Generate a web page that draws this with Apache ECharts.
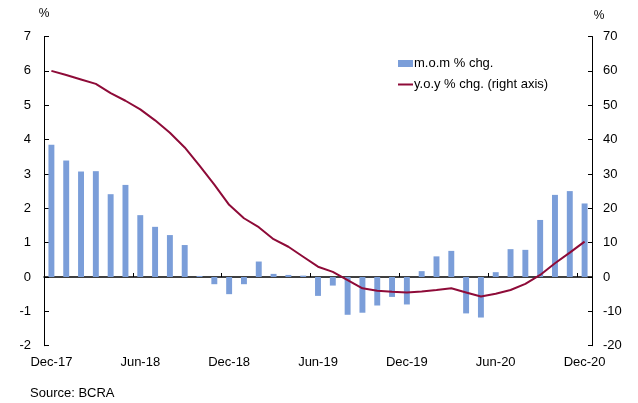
<!DOCTYPE html>
<html>
<head>
<meta charset="utf-8">
<script src="https://cdn.jsdelivr.net/npm/echarts@6/dist/echarts.min.js"></script>
<style>
  html, body { margin: 0; padding: 0; background: #fff; }
  #chart { width: 638px; height: 403px; }
</style>
</head>
<body>
<div id="chart"></div>
<script>
const months = [
  'Dec-17', 'Jan-18', 'Feb-18', 'Mar-18', 'Apr-18', 'May-18', 'Jun-18', 'Jul-18', 'Aug-18', 'Sep-18', 'Oct-18', 'Nov-18',
  'Dec-18', 'Jan-19', 'Feb-19', 'Mar-19', 'Apr-19', 'May-19', 'Jun-19', 'Jul-19', 'Aug-19', 'Sep-19', 'Oct-19', 'Nov-19',
  'Dec-19', 'Jan-20', 'Feb-20', 'Mar-20', 'Apr-20', 'May-20', 'Jun-20', 'Jul-20', 'Aug-20', 'Sep-20', 'Oct-20', 'Nov-20',
  'Dec-20'
]
// m.o.m % chg. (left axis)
const momChg = [
  3.85, 3.39, 3.07, 3.08, 2.41, 2.68, 1.80, 1.46, 1.22, 0.93, 0.03, -0.21,
  -0.50, -0.21, 0.45, 0.09, 0.06, 0.04, -0.55, -0.25, -1.10, -1.04, -0.83, -0.58,
  -0.80, 0.17, 0.60, 0.76, -1.06, -1.18, 0.14, 0.81, 0.79, 1.66, 2.39, 2.50,
  2.14
]
// y.o.y % chg. (right axis)
const yoyChg = [
  60.0, 58.8, 57.5, 56.2, 53.5, 51.3, 48.8, 45.6, 42.0, 37.7, 32.4, 26.9,
  21.0, 17.1, 14.5, 11.0, 8.8, 5.9, 3.0, 1.5, -0.9, -3.3, -4.0, -4.3,
  -4.5, -4.2, -3.8, -3.3, -4.5, -5.7, -4.9, -3.8, -2.0, 0.6, 4.0, 7.1,
  10.3
]
const leftTicks = { min: -2, max: 7, interval: 1 }
const rightTicks = { min: -20, max: 70, interval: 10 }

const font = 'Liberation Sans, Arial, sans-serif'
const myChart = echarts.init(document.getElementById('chart'))

const option = {
  animation: false,
  textStyle: { fontFamily: font, color: '#000' },
  grid: { left: 44, right: 46, top: 36.5, bottom: 57.3, containLabel: false },
  legend: {
    left: 393,
    top: 52,
    orient: 'vertical',
    itemWidth: 15,
    itemHeight: 7,
    itemGap: 8,
    symbolKeepAspect: true,
    textStyle: { fontFamily: font, fontSize: 13, color: '#000', padding: [0, 0, 0, -4] },
    data: [
      { name: 'm.o.m % chg.', icon: 'rect' },
      // thin line icon, kept in aspect so it stays 2px high
      { name: 'y.o.y % chg. (right axis)', icon: 'path://M0,0H15V2H0Z' }
    ]
  },
  xAxis: [
    {
      type: 'category',
      data: months,
      position: 'bottom',
      axisLine: { show: false, onZero: false },
      axisTick: { show: false },
      axisLabel: { interval: 5, margin: 10, fontSize: 13, color: '#000', fontFamily: font }
    },
    {
      // the line through zero with the tick marks
      type: 'category',
      data: months,
      position: 'bottom',
      axisLine: { show: true, onZero: true, lineStyle: { color: '#000', width: 1.5 } },
      axisTick: { show: true, inside: true, length: 4, interval: 5, lineStyle: { color: '#000' } },
      axisLabel: { show: false, interval: 5 }
    }
  ],
  yAxis: [
    {
      type: 'value',
      min: leftTicks.min,
      max: leftTicks.max,
      interval: leftTicks.interval,
      name: '%',
      nameLocation: 'end',
      nameGap: 17,
      nameTextStyle: { fontSize: 12, color: '#000', align: 'center', fontFamily: font },
      axisLine: { show: true, lineStyle: { color: '#000' } },
      axisTick: { show: true, inside: true, length: 5, lineStyle: { color: '#000' } },
      axisLabel: { margin: 13, fontSize: 13, color: '#000', fontFamily: font },
      splitLine: { show: false }
    },
    {
      type: 'value',
      position: 'right',
      min: rightTicks.min,
      max: rightTicks.max,
      interval: rightTicks.interval,
      name: '%',
      nameLocation: 'end',
      nameGap: 15,
      nameTextStyle: { fontSize: 12, color: '#000', align: 'center', padding: [0, 0, 0, 14], fontFamily: font },
      axisLine: { show: true, lineStyle: { color: '#000' } },
      axisTick: { show: true, inside: true, length: 4, lineStyle: { color: '#000' } },
      axisLabel: { margin: 11, fontSize: 13, color: '#000', fontFamily: font },
      splitLine: { show: false }
    }
  ],
  series: [
    {
      name: 'm.o.m % chg.',
      type: 'bar',
      xAxisIndex: 0,
      yAxisIndex: 0,
      barWidth: '40%',
      itemStyle: { color: '#7B9ED9' },
      data: momChg
    },
    {
      name: 'y.o.y % chg. (right axis)',
      type: 'line',
      xAxisIndex: 0,
      yAxisIndex: 1,
      symbol: 'none',
      smooth: false,
      lineStyle: { color: '#8E0B38', width: 2 },
      itemStyle: { color: '#8E0B38' },
      data: yoyChg,
      z: 3
    }
  ],
  graphic: [
    {
      type: 'text',
      left: 30,
      top: 387,
      style: { text: 'Source: BCRA', fontSize: 13, fill: '#000', fontFamily: font }
    }
  ]
}
myChart.setOption(option)
</script>
</body>
</html>
